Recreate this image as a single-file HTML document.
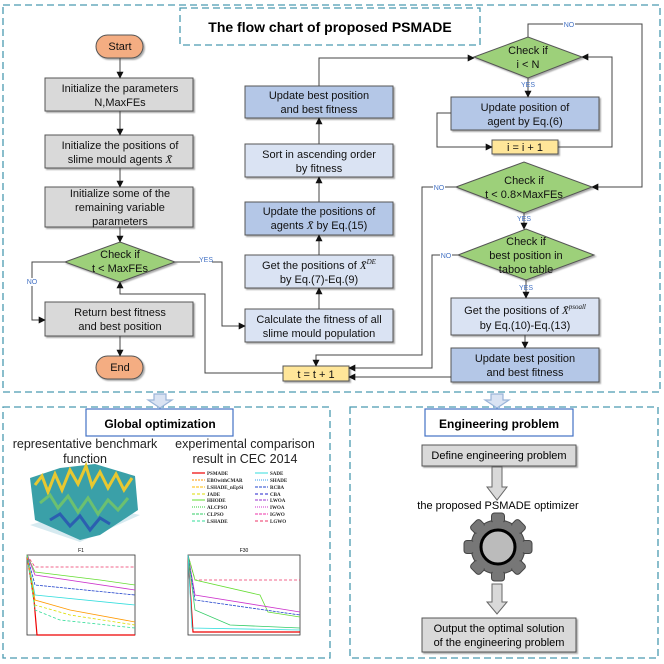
<!DOCTYPE html>
<html><head><meta charset="utf-8"><style>
body{margin:0;background:#fff}
svg{display:block;font-family:"Liberation Sans",Arial,sans-serif}
</style></head><body>
<svg width="664" height="664" viewBox="0 0 664 664" xmlns="http://www.w3.org/2000/svg">
<defs>
<marker id="a" viewBox="0 0 10 10" refX="9" refY="5" markerWidth="7" markerHeight="7" orient="auto"><path d="M0,0L10,5L0,10z" fill="#111"/></marker>
<filter id="s"><feDropShadow dx="1.5" dy="1.5" stdDeviation="0.8" flood-color="#888" flood-opacity="0.7"/></filter>
</defs>
<g fill="none" stroke="#4a9ab0" stroke-width="1.3" stroke-dasharray="7,4">
<rect x="3" y="5" width="657" height="387"/>
<rect x="180" y="8" width="300" height="37"/>
<rect x="3" y="407" width="327" height="251"/>
<rect x="350" y="407" width="308" height="251"/>
</g>
<text x="330" y="32" font-size="14" font-weight="bold" text-anchor="middle">The flow chart of proposed PSMADE</text>

<g filter="url(#s)" stroke="#555" stroke-width="1">
<rect x="96" y="35" width="47" height="23" rx="11.5" fill="#f4ad82"/>
<rect x="96" y="356" width="47" height="23" rx="11.5" fill="#f4ad82"/>
<rect x="45" y="78" width="148" height="33" fill="#d9d9d9"/>
<rect x="45" y="135" width="148" height="33" fill="#d9d9d9"/>
<rect x="45" y="187" width="148" height="40" fill="#d9d9d9"/>
<rect x="45" y="302" width="148" height="34" fill="#d9d9d9"/>
<polygon points="65,262 120,242 175,262 120,282" fill="#9dd07a"/>
<rect x="245" y="86" width="148" height="32" fill="#b4c7e7"/>
<rect x="245" y="144" width="148" height="33" fill="#dae3f3"/>
<rect x="245" y="202" width="148" height="33" fill="#b4c7e7"/>
<rect x="245" y="255" width="148" height="33" fill="#dae3f3"/>
<rect x="245" y="309" width="148" height="33" fill="#dae3f3"/>
<rect x="283" y="366" width="66" height="15" fill="#ffe699"/>
<polygon points="474,57 528,37 582,57 528,78" fill="#9dd07a"/>
<rect x="451" y="97" width="148" height="33" fill="#b4c7e7"/>
<rect x="492" y="140" width="66" height="14" fill="#ffe699"/>
<polygon points="456,187 524,162 592,187 524,213" fill="#9dd07a"/>
<polygon points="458,255 526,229 594,255 526,280" fill="#9dd07a"/>
<rect x="451" y="298" width="148" height="37" fill="#dae3f3"/>
<rect x="451" y="348" width="148" height="34" fill="#b4c7e7"/>
</g>

<g fill="none" stroke="#444" stroke-width="1" marker-end="url(#a)">
<path d="M120,58V78"/><path d="M120,111V135"/><path d="M120,168V187"/><path d="M120,227V242"/>
<path d="M120,336V356"/>
<path d="M65,262H32V320H45"/>
<path d="M175,262H222V326H245"/>
<path d="M283,373H205V294H120V282"/>
<path d="M319,309V288"/><path d="M319,255V235"/><path d="M319,202V177"/><path d="M319,144V118"/>
<path d="M319,86V58H474"/>
<path d="M528,78V97"/>
<path d="M451,113H437V147H492"/>
<path d="M558,147H612V57H582"/>
<path d="M528,37V24H642V187H592"/>
<path d="M524,213V229"/>
<path d="M456,187H422V355H316V366"/>
<path d="M526,280V298"/>
<path d="M458,255H432V368H349"/>
<path d="M525,335V348"/>
<path d="M451,377H349"/>
</g>
<g font-size="7" fill="#4472c4" text-anchor="middle">
<rect x="200" y="256" width="12" height="8" fill="#fff"/><text x="206" y="262">YES</text>
<rect x="26" y="278" width="12" height="8" fill="#fff"/><text x="32" y="284">NO</text>
<rect x="563" y="20" width="12" height="8" fill="#fff"/><text x="569" y="27">NO</text>
<text x="528" y="87">YES</text><text x="524" y="221">YES</text><text x="526" y="290">YES</text>
<rect x="433" y="183" width="12" height="8" fill="#fff"/><text x="439" y="190">NO</text>
<rect x="440" y="251" width="12" height="8" fill="#fff"/><text x="446" y="258">NO</text>
</g>
<g font-size="11" text-anchor="middle" fill="#111">
<text x="120" y="50">Start</text><text x="120" y="371">End</text>
<text x="120" y="92">Initialize the parameters</text><text x="120" y="106">N,MaxFEs</text>
<text x="120" y="149">Initialize the positions of</text><text x="120" y="163">slime mould agents <tspan font-family="Liberation Serif" font-style="italic">X̄</tspan></text>
<text x="120" y="197">Initialize some of the</text><text x="120" y="211">remaining variable</text><text x="120" y="225">parameters</text>
<text x="120" y="258">Check if</text><text x="120" y="272">t &lt; MaxFEs</text>
<text x="120" y="316">Return best fitness</text><text x="120" y="330">and best position</text>
<text x="319" y="99">Update best position</text><text x="319" y="113">and best fitness</text>
<text x="319" y="158">Sort in ascending order</text><text x="319" y="172">by fitness</text>
<text x="319" y="215">Update the positions of</text><text x="319" y="229">agents <tspan font-family="Liberation Serif" font-style="italic">X̄</tspan>  by Eq.(15)</text>
<text x="319" y="269">Get the positions of <tspan font-family="Liberation Serif" font-style="italic">X̄<tspan font-size="7" dy="-5">DE</tspan></tspan></text><text x="319" y="283">by Eq.(7)-Eq.(9)</text>
<text x="319" y="323">Calculate the fitness of all</text><text x="319" y="337">slime mould population</text>
<text x="316" y="378">t = t + 1</text>
<text x="528" y="54">Check if</text><text x="528" y="68">i &lt; N</text>
<text x="525" y="111">Update position of</text><text x="525" y="125">agent by Eq.(6)</text>
<text x="525" y="151">i = i + 1</text>
<text x="524" y="184">Check if</text><text x="524" y="198">t &lt; 0.8×MaxFEs</text>
<text x="526" y="245">Check if</text><text x="526" y="259">best position in</text><text x="526" y="273">taboo table</text>
<text x="525" y="314">Get the positions of <tspan font-family="Liberation Serif" font-style="italic">X̄<tspan font-size="7" dy="-5">psoall</tspan></tspan></text><text x="525" y="329">by Eq.(10)-Eq.(13)</text>
<text x="525" y="362">Update best position</text><text x="525" y="376">and best fitness</text>
</g>

<g fill="#dae3f3" stroke="#9ab4d8" stroke-width="1.2">
<path d="M154,394H166V400H172L160,408L148,400H154Z"/>
<path d="M491,394H503V400H509L497,408L485,400H491Z"/>
</g>

<rect x="86" y="409" width="147" height="27" fill="#fff" stroke="#4472c4" stroke-width="1.2"/>
<text x="160" y="428" font-size="12" font-weight="bold" text-anchor="middle">Global optimization</text>
<g font-size="12.5" text-anchor="middle" fill="#222">
<text x="85" y="448">representative benchmark</text><text x="85" y="463">function</text>
<text x="245" y="448">experimental comparison</text><text x="245" y="463">result in CEC 2014</text>
</g>
<g>
<polygon points="30,525 95,505 140,515 80,542" fill="#d6eaf0"/>
<polygon points="30,478 60,468 95,464 135,476 138,510 100,535 80,540 35,520" fill="#3aa0a8"/>
<polyline points="35,485 42,476 48,492 55,474 62,490 70,470 78,484 86,466 92,486 100,472 108,488 116,474 124,490 132,478" fill="none" stroke="#e8c830" stroke-width="3"/>
<polyline points="40,503 50,495 58,508 68,496 78,512 88,498 98,514 108,500 118,510 128,498" fill="none" stroke="#6cc070" stroke-width="3"/>
<polyline points="50,520 60,514 70,526 80,516 90,530 100,518 110,524" fill="none" stroke="#2b5fb0" stroke-width="3"/>
</g>
<g font-size="5" font-family="Liberation Serif" font-weight="bold" fill="#222">
<line x1="192" y1="473" x2="205" y2="473" stroke="#e00" stroke-width="1.2"/><text x="207" y="475">PSMADE</text>
<line x1="192" y1="480" x2="205" y2="480" stroke="#f90" stroke-dasharray="2,1"/><text x="207" y="482">EBOwithCMAR</text>
<line x1="192" y1="487" x2="205" y2="487" stroke="#fb0" stroke-dasharray="3,1"/><text x="207" y="489">LSHADE_nEpSi</text>
<line x1="192" y1="494" x2="205" y2="494" stroke="#dd0" stroke-dasharray="3,2"/><text x="207" y="496">JADE</text>
<line x1="192" y1="500" x2="205" y2="500" stroke="#6d3"/><text x="207" y="502">HHODE</text>
<line x1="192" y1="507" x2="205" y2="507" stroke="#3c3" stroke-dasharray="1,1"/><text x="207" y="509">ALCPSO</text>
<line x1="192" y1="514" x2="205" y2="514" stroke="#3c6" stroke-dasharray="3,1"/><text x="207" y="516">CLPSO</text>
<line x1="192" y1="521" x2="205" y2="521" stroke="#3d9" stroke-dasharray="3,2"/><text x="207" y="523">LSHADE</text>
<line x1="255" y1="473" x2="268" y2="473" stroke="#3dd"/><text x="270" y="475">SADE</text>
<line x1="255" y1="480" x2="268" y2="480" stroke="#39e" stroke-dasharray="1,1"/><text x="270" y="482">SHADE</text>
<line x1="255" y1="487" x2="268" y2="487" stroke="#24c" stroke-dasharray="3,1"/><text x="270" y="489">RCBA</text>
<line x1="255" y1="494" x2="268" y2="494" stroke="#22c" stroke-dasharray="3,2"/><text x="270" y="496">CBA</text>
<line x1="255" y1="500" x2="268" y2="500" stroke="#93c" stroke-dasharray="3,1"/><text x="270" y="502">LWOA</text>
<line x1="255" y1="507" x2="268" y2="507" stroke="#c3c" stroke-dasharray="1,1"/><text x="270" y="509">IWOA</text>
<line x1="255" y1="514" x2="268" y2="514" stroke="#e3a" stroke-dasharray="3,1"/><text x="270" y="516">IGWO</text>
<line x1="255" y1="521" x2="268" y2="521" stroke="#e36" stroke-dasharray="3,2"/><text x="270" y="523">LGWO</text>
</g>
<g fill="none" stroke-width="0.8">
<rect x="27" y="555" width="108" height="80" stroke="#333"/>
<polyline points="27,555 34,600 37,635 135,635" stroke="#e00" stroke-width="1.2"/>
<polyline points="27,555 35,567 135,567" stroke="#e36" stroke-dasharray="3,2"/>
<polyline points="27,555 35,572 100,580 135,585" stroke="#6d3"/>
<polyline points="27,555 35,575 135,590" stroke="#c3c"/>
<polyline points="27,555 35,585 135,595" stroke="#24c" stroke-dasharray="3,1"/>
<polyline points="27,555 35,595 135,605" stroke="#3dd"/>
<polyline points="27,555 35,600 70,610 135,622" stroke="#f90"/>
<polyline points="27,555 35,605 70,615 135,625" stroke="#dd0" stroke-dasharray="3,2"/>
<polyline points="27,555 35,610 60,620 135,628" stroke="#3d9" stroke-dasharray="3,2"/>
<rect x="188" y="555" width="112" height="80" stroke="#333"/>
<polyline points="188,555 193,632 300,632" stroke="#e00" stroke-width="1.2"/>
<polyline points="188,555 195,580 300,580" stroke="#e36" stroke-dasharray="3,2"/>
<polyline points="188,555 195,580 260,595 268,612 300,617" stroke="#6d3"/>
<polyline points="188,555 195,595 300,612" stroke="#c3c"/>
<polyline points="188,555 195,600 300,615" stroke="#24c" stroke-dasharray="3,1"/>
<polyline points="188,555 195,610 230,625 300,628" stroke="#3c6"/>
<polyline points="188,555 192,628 300,630" stroke="#3dd"/>
</g>
<text x="81" y="552" font-size="5" text-anchor="middle">F1</text>
<text x="244" y="552" font-size="5" text-anchor="middle">F30</text>

<rect x="425" y="409" width="148" height="27" fill="#fff" stroke="#4472c4" stroke-width="1.2"/>
<text x="499" y="428" font-size="12" font-weight="bold" text-anchor="middle">Engineering problem</text>
<rect x="422" y="445" width="154" height="21" fill="#d9d9d9" stroke="#555" filter="url(#s)"/>
<text x="499" y="459" font-size="11" text-anchor="middle">Define engineering problem</text>
<path d="M492,467H502V487H507L497,500L487,487H492Z" fill="#d9d9d9" stroke="#666"/>
<text x="498" y="509" font-size="11" text-anchor="middle">the proposed PSMADE optimizer</text>
<g transform="translate(498,547)">
<g fill="#777" stroke="#444" stroke-width="1">
<circle r="27"/>
<g id="t"><rect x="-6.5" y="-34" width="13" height="10" rx="3"/></g>
<use href="#t" transform="rotate(45)"/><use href="#t" transform="rotate(90)"/><use href="#t" transform="rotate(135)"/>
<use href="#t" transform="rotate(180)"/><use href="#t" transform="rotate(225)"/><use href="#t" transform="rotate(270)"/><use href="#t" transform="rotate(315)"/>
</g>
<circle r="25.5" fill="#777"/>
<circle r="17" fill="#bbb" stroke="#000" stroke-width="3"/>
</g>
<path d="M492,584H502V602H507L497,614L487,602H492Z" fill="#d9d9d9" stroke="#666"/>
<rect x="422" y="618" width="154" height="34" fill="#d9d9d9" stroke="#555" filter="url(#s)"/>
<text x="499" y="632" font-size="11" text-anchor="middle">Output the optimal solution</text>
<text x="499" y="646" font-size="11" text-anchor="middle">of the engineering problem</text>
</svg>
</body></html>
